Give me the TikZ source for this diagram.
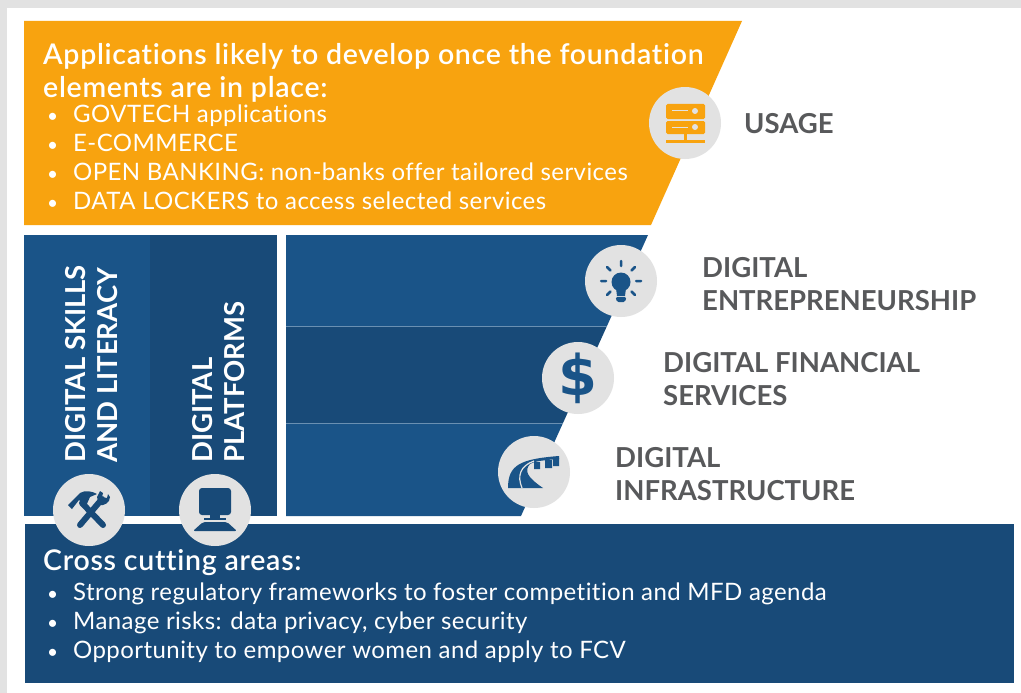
\documentclass[tikz,border=0pt]{standalone}
\usepackage{fontspec}
\setmainfont[Ligatures=CommonOff]{Lato}
\newfontfamily\headfont[LetterSpace=2.5,Ligatures=CommonOff]{Lato}[BoldFont={Lato Semibold}]
\newfontfamily\bodyfont[LetterSpace=1.8,Ligatures=CommonOff]{Lato}
\newfontfamily\signfont{DejaVu Sans}
\usetikzlibrary{calc}
\definecolor{orangefill}{HTML}{F8A30F}
\definecolor{bluefill}{HTML}{1A5488}
\definecolor{darkfill}{HTML}{184A78}
\definecolor{iconfill}{HTML}{E2E2E2}
\definecolor{labeltext}{HTML}{58595B}
\tikzstyle{icon} = [circle, minimum size=72pt, inner sep=0pt, fill = iconfill]
\tikzstyle{heading} = [anchor=west, align=left, inner sep=0pt, text = white, font=\fontsize{28.5}{33}\headfont\selectfont\bfseries]
\tikzstyle{bullets} = [anchor=west, align=left, inner sep=0pt, text = white, font=\fontsize{24}{29}\bodyfont\selectfont]
\tikzstyle{usagelabel} = [anchor=west, align=left, inner sep=0pt, text = labeltext, font=\fontsize{27.5}{33}\selectfont\bfseries]
\tikzstyle{sidelabel} = [anchor=west, align=left, inner sep=0pt, rotate=90, text = white, font=\fontsize{27.5}{32}\selectfont\bfseries]
\newcommand{\bul}{\makebox[30pt][l]{\hspace{4pt}{\fontsize{19}{19}\selectfont•}}}
\begin{document}
\begin{tikzpicture}[x=1pt,y=-1pt]
	\useasboundingbox (0,0) rectangle (1021,693);
	%page edge
	\fill [iconfill] (0,0) rectangle (1021,693);
	\fill [white] (7,8) rectangle (1021,693);
	%bands
	\fill [orangefill] (24,21) -- (742,21) -- (651,225) -- (24,225) -- cycle;
	\fill [bluefill] (24,235) rectangle (150,516);
	\fill [darkfill] (150,235) rectangle (277,516);
	\fill [bluefill] (286,235) -- (648,235) -- (607,326) -- (286,326) -- cycle;
	\fill [darkfill] (286,326) -- (607,326) -- (563,423) -- (286,423) -- cycle;
	\fill [bluefill] (286,423) -- (563,423) -- (521,516) -- (286,516) -- cycle;
	\draw [white!35!bluefill,line width=0.6pt] (286,326) -- (607,326) (286,423) -- (563,423);
	\fill [darkfill] (25,524) rectangle (1014,683);
	%text
	\node (APP) [heading] at (43,73) {Applications likely to develop once the foundation\\elements are in place:};
	\node (USE) [bullets] at (43,157.5) {\bul GOVTECH applications\\\bul E-COMMERCE\\\bul OPEN BANKING: non-banks offer tailored services\\\bul DATA LOCKERS to access selected services};
	\node (CROSS) [heading] at (43,563) {Cross cutting areas:};
	\node (AREAS) [bullets] at (43,622.5) {\bul Strong regulatory frameworks to foster competition and MFD agenda\\\bul Manage risks: data privacy, cyber security\\\bul Opportunity to empower women and apply to FCV};
	\node (SKILLS) [sidelabel] at (92,463) {DIGITAL SKILLS\\AND LITERACY};
	\node (PLAT) [sidelabel] at (219,463) {DIGITAL\\PLATFORMS};
	\node (USAGE) [usagelabel] at (744,124) {USAGE};
	\node (ENT) [usagelabel] at (702,284.5) {DIGITAL\\ENTREPRENEURSHIP};
	\node (FIN) [usagelabel] at (663,379.5) {DIGITAL FINANCIAL\\SERVICES};
	\node (INF) [usagelabel] at (615,474.5) {DIGITAL\\INFRASTRUCTURE};
	%circles
	\node (ICONU) [icon] at (685,123) {};
	\node (ICONE) [icon] at (621,281) {};
	\node (ICONF) [icon, text = bluefill, font=\fontsize{56}{56}\signfont\selectfont\bfseries] at (578,378) {\$};
	\node (ICONI) [icon] at (534,472) {};
	\node (ICONS) [icon] at (89,510) {};
	\node (ICONP) [icon] at (215,510) {};
	%server
	\fill [orangefill,rounded corners=1.5pt] (666,104) rectangle (705,119);
	\fill [orangefill,rounded corners=1.5pt] (666,121) rectangle (705,134);
	\fill [orangefill] (684,134) rectangle (687,140);
	\fill [orangefill] (666,140) rectangle (705,143);
	\draw [iconfill,line width=1pt] (672,111) -- (688,111) (672,127) -- (688,127);
	\fill [iconfill] (695,111) circle (3) (695,127) circle (3);
	%bulb
	\fill [bluefill] (621,282) circle (9.5);
	\fill [bluefill] (616,288) -- (626,288) -- (625,296) -- (617,296) -- cycle;
	\fill [bluefill,rounded corners=1.5pt] (615.5,297) -- (626.5,297) -- (625,302) -- (617,302) -- cycle;
	\draw [bluefill,line width=2.5pt,line cap=round] (621,261) -- (621,266) (607,267) -- (610.5,270.5) (635,267) -- (631.5,270.5)
		(601,281) -- (606,281) (636,281) -- (641,281) (607,295) -- (610.5,291.5) (635,295) -- (631.5,291.5);
	%road
	\fill [bluefill] (508,488) .. controls (508,465) and (520,459) .. (559,456) -- (559,459)
		.. controls (545,460) and (535,461) .. (530,464) .. controls (524,471) and (527,477) .. (543,488) -- cycle;
	\draw [iconfill,line width=1.2pt] (522,488) .. controls (517,476) and (520,466) .. (534,461);
	\fill [bluefill] (534,462) rectangle (540,469) (545,460) rectangle (552,468) (553,458) rectangle (559,466);
	%tools
	\draw [darkfill,line width=6pt,line cap=round] (82,503) -- (103,525);
	\draw [darkfill,line width=6pt,line cap=round] (80,525) -- (102,499);
	\fill [darkfill] (68,505) -- (80,493) .. controls (85,490) and (92,491) .. (97,494) -- (90,497) -- (86,506) -- (79,500) -- (72,509) -- cycle;
	\fill [darkfill] (100,491) -- (103,493) -- (102,497) -- (107,498) -- (108,494) -- (110,497) .. controls (110,503) and (104,506) .. (99,505) -- (97,497) -- cycle;
	%computer
	\fill [darkfill,rounded corners=3pt] (199,488) rectangle (231,515);
	\fill [darkfill] (210,515) rectangle (220,518);
	\fill [darkfill] (204,518) rectangle (226,520);
	\fill [darkfill,rounded corners=2pt] (203,522) -- (227,522) -- (237,531) -- (193,531) -- cycle;
\end{tikzpicture}
\end{document}
